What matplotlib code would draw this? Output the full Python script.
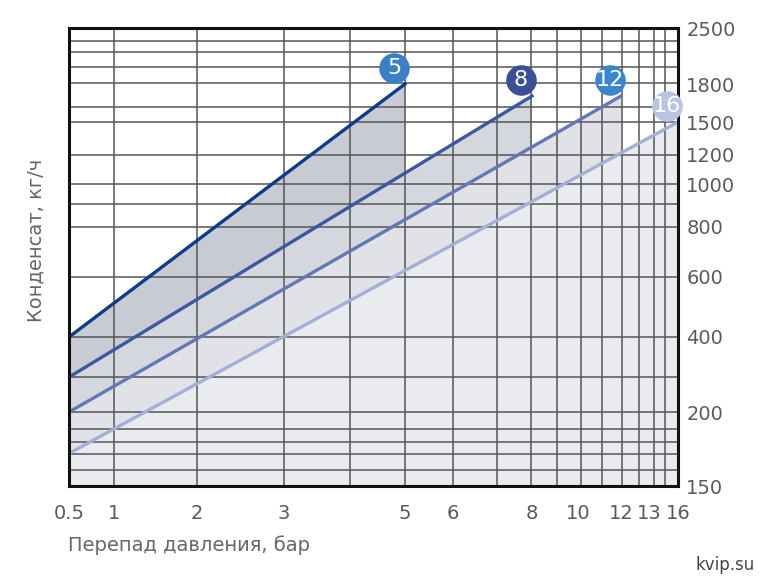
import numpy as np
import matplotlib
matplotlib.use("Agg")
import matplotlib.pyplot as plt

# data
x_ticks = [0.5, 1, 2, 3, 5, 6, 8, 10, 12, 13, 16]
y_ticks = [150, 200, 400, 600, 800, 1000, 1200, 1500, 1800, 2500]
series = ["5", "8", "12", "16"]
x_start = [0.5, 0.5, 0.5, 0.5]
x_end = [5, 8, 12, 16]
y_start = [400, 293, 200, 172]
y_end = [1800, 1705, 1705, 1500]

# chart's nonuniform scale (pixel anchors)
x_pos = [69, 114, 197, 284, 405, 453, 532, 578, 621, 649, 678]
y_pos = [486, 412, 337, 277, 227, 184, 155, 122, 84, 28]
xa = np.array(x_ticks, float); xp = np.array(x_pos, float)
ya = np.array(y_ticks, float); yp = -np.array(y_pos, float)

def fx(v): return np.interp(v, xa, xp)
def ifx(p): return np.interp(p, xp, xa)
def fy(v): return np.interp(v, ya, yp)
def ify(p): return np.interp(p, yp, ya)

W, H = 766, 587
L, R, T, B = 69, 678, 28, 486
fig = plt.figure(figsize=(W/100, H/100), dpi=100)
ax = fig.add_axes([L/W, (H-B)/H, (R-L)/W, (B-T)/H])
ax.set_xscale('function', functions=(fx, ifx))
ax.set_yscale('function', functions=(fy, ify))
ax.set_xlim(0.5, 16); ax.set_ylim(150, 2500)

fills = ["#c9cbd4", "#d5d7de", "#e0e2e7", "#eaebef"]
lcol = ["#0d3c8a", "#3d58a0", "#6577b5", "#a3b0d6"]
ccol = ["#3b80c6", "#3a4f94", "#3b86ca", "#b9c4e2"]
for i in range(4):
    xs = [x_start[i], x_end[i], x_end[i], x_start[i]]
    ys = [y_start[i], y_end[i], 150, 150]
    ax.fill(xs, ys, color=fills[i], zorder=1+i*0.1, lw=0)
for i in range(4):
    ax.plot([x_start[i], x_end[i]], [y_start[i], y_end[i]], color=lcol[i], lw=2.4, zorder=5)

# grid (style positions in pixels)
vgrid = [114, 197, 284, 350, 405, 453, 497, 531, 557, 581, 602, 622, 639, 654, 665]
hgrid = [41, 52, 67, 83, 107, 122, 155, 184, 204, 227, 277, 337, 377, 412, 429, 442, 454, 470]
gc = "#555555"
for p in vgrid:
    ax.plot([(p-L)/(R-L)]*2, [0, 1], color=gc, lw=1.1, zorder=3, transform=ax.transAxes)
for p in hgrid:
    ax.plot([0, 1], [(B-p)/(B-T)]*2, color=gc, lw=1.1, zorder=3, transform=ax.transAxes)

off = matplotlib.transforms.ScaledTranslation(-11/100, 16/100, fig.dpi_scale_trans)
for i in range(4):
    ax.plot(x_end[i], y_end[i], 'o', ms=21, color=ccol[i], zorder=7, clip_on=False,
            transform=ax.transData + off)
    ax.annotate(series[i], (x_end[i], y_end[i]), xytext=(-11, 16), textcoords='offset pixels',
                ha='center', va='center', color='white', fontsize=16, zorder=8,
                annotation_clip=False, family='Liberation Sans Narrow' if False else 'DejaVu Sans Condensed' if False else None)

for s in ax.spines.values():
    s.set_linewidth(2.2); s.set_color('#111111'); s.set_zorder(6)
ax.set_xticks(x_ticks); ax.set_xticklabels([str(v) for v in x_ticks])
ax.set_yticks(y_ticks); ax.set_yticklabels([str(v) for v in y_ticks])
ax.minorticks_off()
ax.yaxis.tick_right()
ax.tick_params(length=0, labelsize=14, colors="#5a5a5a")
ax.tick_params(axis='x', pad=13)
ax.tick_params(axis='y', pad=6)
fig.text(36/W, 1-240/H, "Конденсат, кг/ч", rotation=90, ha='center', va='center', fontsize=14, color="#666666")
fig.text(68/W, 1-545/H, "Перепад давления, бар", ha='left', va='center', fontsize=14, color="#666666")
fig.text(755/W, 1-565/H, "kvip.su", ha='right', va='center', fontsize=12, color="#444444")
fig.savefig("out.png", dpi=100)
